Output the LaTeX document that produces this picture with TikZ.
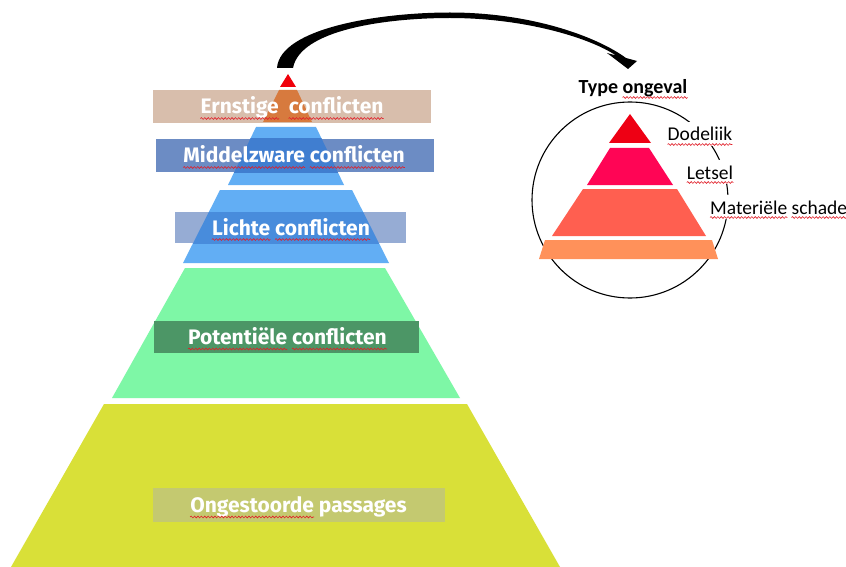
\documentclass[tikz,border=0pt]{standalone}
\usepackage{fontspec}
\usetikzlibrary{decorations.pathmorphing}
\setmainfont{Carlito}
\newfontfamily\lblfont{Fira Sans}
\definecolor{wavered}{RGB}{225,30,40}
\definecolor{redA}{RGB}{240,0,10}
\definecolor{orangeIn}{RGB}{215,122,62}
\definecolor{blueP}{RGB}{98,174,244}
\definecolor{greenP}{RGB}{126,247,166}
\definecolor{yellowP}{RGB}{217,224,56}
\definecolor{boxE}{RGB}{216,190,172}
\definecolor{boxM}{RGB}{108,140,196}
\definecolor{boxMin}{RGB}{64,126,208}
\definecolor{boxL}{RGB}{150,172,212}
\definecolor{boxLin}{RGB}{72,140,220}
\definecolor{boxP}{RGB}{76,150,102}
\definecolor{boxO}{RGB}{196,201,112}
\definecolor{sRed}{RGB}{238,0,20}
\definecolor{sPink}{RGB}{255,5,85}
\definecolor{sCoral}{RGB}{255,95,80}
\definecolor{sOrange}{RGB}{255,145,90}
\begin{document}
\begin{tikzpicture}[x=1pt,y=-1pt,
  labelbox/.style={inner sep=0pt, outer sep=0pt},
  lbltxt/.style={text=white, font=\lblfont\bfseries\fontsize{21}{23}\selectfont, inner sep=0pt, anchor=base},
  rtxt/.style={font=\fontsize{19.5}{21}\selectfont, inner sep=0pt, anchor=base},
  ttxt/.style={font=\bfseries\fontsize{20}{22}\selectfont, inner sep=0pt, anchor=base},
  wave/.style={draw=wavered, line width=0.6pt, decorate,
    decoration={snake, amplitude=0.9pt, segment length=3.4pt}}]
\useasboundingbox (0,0) rectangle (846,567);
\fill[white] (0,0) rectangle (846,567);

% ---------- main pyramid ----------
\fill[yellowP] (104,404) -- (467,404) -- (560,567) -- (11,567) -- cycle;
\fill[greenP] (185,268) -- (385,268) -- (460,398) -- (112,398) -- cycle;
\fill[blueP] (220,190) -- (352,190) -- (389,263) -- (183,263) -- cycle;
\fill[blueP] (256,127) -- (316,127) -- (344,185) -- (228,185) -- cycle;

% label boxes
\node[labelbox, fill=boxE, minimum width=278pt, minimum height=33pt] (bE) at (292,106.5) {};
\node[labelbox, fill=boxM, minimum width=278pt, minimum height=33pt] (bM) at (294.5,155.5) {};
\node[labelbox, fill=boxL, minimum width=231pt, minimum height=31pt] (bL) at (290,227.5) {};
\node[labelbox, fill=boxP, minimum width=265pt, minimum height=32pt] (bP) at (286.5,337) {};
\node[labelbox, fill=boxO, minimum width=292pt, minimum height=34pt] (bO) at (299,505) {};

% pyramid seen through the boxes
\fill[orangeIn] (279,90) -- (297,90) -- (312,122) -- (263,122) -- cycle;
\begin{scope}
  \clip (bM.south west) rectangle (bM.north east);
  \fill[boxMin] (256,127) -- (316,127) -- (344,185) -- (228,185) -- cycle;
\end{scope}
\begin{scope}
  \clip (bL.south west) rectangle (bL.north east);
  \fill[boxLin] (220,190) -- (352,190) -- (389,263) -- (183,263) -- cycle;
\end{scope}

% top red triangle
\fill[redA] (288,74) -- (296,87) -- (280,87) -- cycle;
\coordinate (arrowEnd) at (628,69);

% label texts
\node[lbltxt] (tE) at (292,114) {Ernstige\ \ conflicten};
\node[lbltxt] (tM) at (294,163) {Middelzware conflicten};
\node[lbltxt] (tL) at (291,235) {Lichte conflicten};
\node[lbltxt] (tP) at (287.5,344.5) {Potentiële conflicten};
\node[lbltxt] (tO) at (298.5,512.5) {Ongestoorde passages};
% word extents (phantoms) for the spell-check underlines
\node[lbltxt, anchor=base west] (wE1) at (tE.base west) {\phantom{Ernstige}};
\node[lbltxt, anchor=base east] (wE2) at (tE.base east) {\phantom{conflicten}};
\node[lbltxt, anchor=base west] (wM1) at (tM.base west) {\phantom{Middelzware}};
\node[lbltxt, anchor=base east] (wM2) at (tM.base east) {\phantom{conflicten}};
\node[lbltxt, anchor=base west] (wL1) at (tL.base west) {\phantom{Lichte}};
\node[lbltxt, anchor=base east] (wL2) at (tL.base east) {\phantom{conflicten}};
\node[lbltxt, anchor=base west] (wP1) at (tP.base west) {\phantom{Potentiële}};
\node[lbltxt, anchor=base east] (wP2) at (tP.base east) {\phantom{conflicten}};
\node[lbltxt, anchor=base west] (wO1) at (tO.base west) {\phantom{Ongestoorde}};
\foreach \w in {wE1,wE2,wM1,wM2,wL1,wL2,wP1,wP2,wO1}
  \draw[wave] ([yshift=-4.5pt]\w.base west) -- ([yshift=-4.5pt]\w.base east);

% ---------- curved arrow ----------
\fill[black] (277,68) .. controls (280,28) and (380,12.5) .. (450,12.5)
  .. controls (530,12.5) and (596,36) .. (626,58)
  -- (637,61) -- (arrowEnd) -- (607,53) -- (616,55.5)
  .. controls (590,38) and (525,18) .. (450,18)
  .. controls (385,18) and (300,30) .. (293,68) -- cycle;

% ---------- right: type of accident ----------
\node[draw=black, line width=1.1pt, circle, minimum size=196pt, inner sep=0pt] (ring) at (630,200) {};

\fill[sRed] (630,114) -- (651,143) -- (609,143) -- cycle;
\fill[sPink] (610,148) -- (649,148) -- (673,185) -- (587,185) -- cycle;
\fill[sCoral] (583,189) -- (677,189) -- (706,236) -- (552,236) -- cycle;
\fill[sOrange] (545,240) -- (712,240) -- (718,259) -- (539,259) -- cycle;

\node[ttxt] (type) at (633,94) {Type ongeval};
\node[ttxt, anchor=base east] (wT) at (type.base east) {\phantom{ongeval}};
\node[rtxt, fill=white, inner ysep=5pt] (dod) at (700,141) {Dodeliik};
\node[rtxt, fill=white, inner ysep=5pt] (let) at (710,179) {Letsel};
\node[rtxt, fill=white, inner ysep=5pt, anchor=base west] (mat) at (710,214) {Materiële schade};
\node[rtxt, anchor=base west] (wMa1) at (mat.base west) {\phantom{Materiële}};
\node[rtxt, anchor=base east] (wMa2) at (mat.base east) {\phantom{schade}};
\foreach \w in {wT,dod,let,wMa1,wMa2}
  \draw[wave] ([yshift=-3.5pt]\w.base west) -- ([yshift=-3.5pt]\w.base east);
\end{tikzpicture}
\end{document}
